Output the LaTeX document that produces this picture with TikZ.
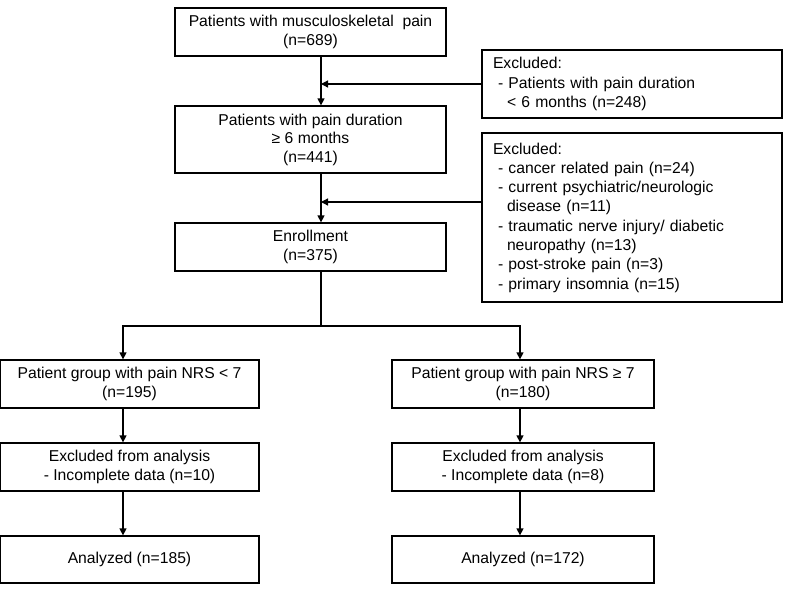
\documentclass[tikz,border=0pt]{standalone}
\usepackage{fontspec}
\setmainfont{Liberation Sans}
\usetikzlibrary{arrows.meta,positioning}

\begin{document}
\begin{tikzpicture}[x=1pt, y=-1pt,
    box/.style={draw, line width=1.3pt, inner sep=0pt, align=center, font=\fontsize{15.7}{18.5}\selectfont},
    exbox/.style={draw, line width=1.3pt, inner xsep=11pt, inner ysep=0pt, text width=278pt, align=left, font=\fontsize{15.7}{19.3}\selectfont},
    arr/.style={line width=1.3pt, -{Triangle[length=7pt,width=7pt]}},
    link/.style={line width=1.3pt}
]
    \useasboundingbox (0,0) rectangle (786,598);

    % Main column
    \node[box, minimum width=271pt, minimum height=48pt] (n689) at (310.5,32) {Patients with musculoskeletal~ pain\\(n=689)};
    \node[box, minimum width=271pt, minimum height=67pt] (n441) at (310.5,139.5) {Patients with pain duration\\≥ 6 months\\(n=441)};
    \node[box, minimum width=271pt, minimum height=48pt] (n375) at (310.5,247) {Enrollment\\(n=375)};

    % Exclusions
    \node[exbox, minimum height=68pt] (exA) at (632,84) {Excluded:\\\hspace*{5pt}- Patients with pain duration\\\hspace*{14pt}< 6 months (n=248)};
    \node[exbox, minimum height=169pt] (exB) at (632,217.5) {Excluded:\\
        \hspace*{5pt}- cancer related pain (n=24)\\
        \hspace*{5pt}- current psychiatric/neurologic\\
        \hspace*{14pt}disease (n=11)\\
        \hspace*{5pt}- traumatic nerve injury/ diabetic\\
        \hspace*{14pt}neuropathy (n=13)\\
        \hspace*{5pt}- post-stroke pain (n=3)\\
        \hspace*{5pt}- primary insomnia (n=15)};

    % Groups
    \node[box, minimum width=259pt, minimum height=48pt] (lowA) at (129.5,384) {Patient group with pain NRS < 7\\(n=195)};
    \node[box, minimum width=262pt, minimum height=48pt] (lowB) at (523,384) {Patient group with pain NRS ≥ 7\\(n=180)};
    \node[box, minimum width=259pt, minimum height=48pt] (exlA) at (129.5,467) {Excluded from analysis\\- Incomplete data (n=10)};
    \node[box, minimum width=262pt, minimum height=48pt] (exlB) at (523,467) {Excluded from analysis\\- Incomplete data (n=8)};
    \node[box, minimum width=259pt, minimum height=47pt] (anA) at (129.5,559.5) {Analyzed (n=185)};
    \node[box, minimum width=262pt, minimum height=47pt] (anB) at (523,559.5) {Analyzed (n=172)};

    % Connectors
    \coordinate (xT) at (321,0);
    \coordinate (xL) at (123,0);
    \coordinate (xR) at (520,0);
    \coordinate (jB) at (321,202);
    \coordinate (br) at (321,326);

    \draw[arr] (n689.south -| xT) -- (n441.north -| xT);
    \draw[arr] (exA.west) -- (exA.west -| xT);
    \draw[arr] (n441.south -| xT) -- (n375.north -| xT);
    \draw[arr] (exB.west |- jB) -- (jB);
    \draw[link] (n375.south -| xT) -- (br);
    \draw[arr] (br) -| (lowA.north -| xL);
    \draw[arr] (br) -| (lowB.north -| xR);
    \draw[arr] (lowA.south -| xL) -- (exlA.north -| xL);
    \draw[arr] (lowB.south -| xR) -- (exlB.north -| xR);
    \draw[arr] (exlA.south -| xL) -- (anA.north -| xL);
    \draw[arr] (exlB.south -| xR) -- (anB.north -| xR);
\end{tikzpicture}
\end{document}
